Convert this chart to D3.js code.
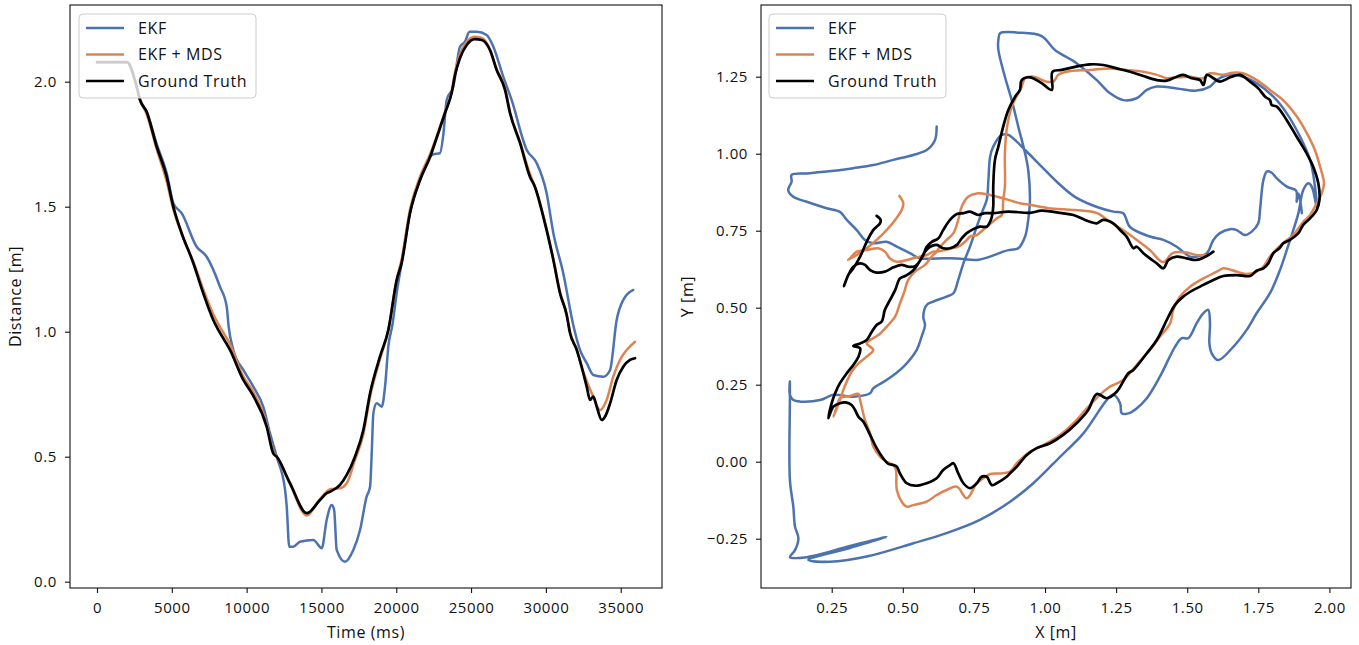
<!DOCTYPE html>
<html>
<head>
<meta charset="utf-8">
<script src="https://cdn.jsdelivr.net/npm/d3@7"></script>
<style>
  body { margin: 0; background: #fff; }
  svg text { font-family: "Open Sans", sans-serif; fill: #111; letter-spacing: 0.6px; }
  .tick line { stroke: #111; stroke-width: 1.1; }
</style>
</head>
<body>
<svg id="chart"></svg>
<script>
const FRAME_WIDTH = 1359;
const FRAME_HEIGHT = 645;

// panel boxes (pixels) for the two subplots
const LEFT_BOX = {x0: 70, x1: 662, y0: 5, y1: 588};
const RIGHT_BOX = {x0: 761, x1: 1351, y0: 5, y1: 588};

const COLORS = {ekf: "#4C72B0", mds: "#DD8452", gt: "#000000"};
const SERIES_NAMES = ["EKF", "EKF + MDS", "Ground Truth"];

// ---------------- left plot: distance over time ----------------
const timeTicks = [0, 5000, 10000, 15000, 20000, 25000, 30000, 35000];
const distTicks = [0.0, 0.5, 1.0, 1.5, 2.0];

const gtTime = [0, 2000, 2650, 2870, 3320, 3990, 4660, 5100, 5660, 6440, 7100, 7770, 8110, 8890,
  9780, 10340, 11340, 11780, 12010, 12900, 14020, 14900, 15350, 15570, 16240, 16690, 17240, 17800,
  18250, 18910, 19470, 20030, 20360, 20920, 21590, 22260, 22810, 23260, 23700, 23930, 24260, 24710,
  25260, 25710, 26260, 26710, 27270, 27600, 28270, 28940, 29270, 29830, 30500, 30940, 31390, 31610,
  32060, 32500, 32730, 32950, 33170, 33400, 33730, 33950, 34290, 34730, 35170, 35620, 35960];
const gtDist = [2.078, 2.078, 1.98, 1.927, 1.88, 1.74, 1.62, 1.50, 1.394, 1.274, 1.154, 1.047, 1.007, 0.927,
  0.807, 0.754, 0.62, 0.513, 0.50, 0.394, 0.274, 0.327, 0.354, 0.36, 0.387, 0.427, 0.50, 0.607,
  0.754, 0.90, 1.007, 1.207, 1.275, 1.475, 1.607, 1.699, 1.795, 1.875, 1.955, 2.027, 2.095, 2.147,
  2.17, 2.167, 2.127, 2.047, 1.967, 1.875, 1.755, 1.619, 1.579, 1.459, 1.287, 1.155, 1.067, 0.995,
  0.927, 0.834, 0.78, 0.727, 0.74, 0.70, 0.647, 0.66, 0.713, 0.807, 0.86, 0.887, 0.894];

const ekfTime = [0, 2000, 2650, 2870, 3320, 3990, 4660, 5100, 5660, 6660, 7330, 8220, 8670, 8800,
  9110, 9780, 10450, 11110, 11560, 12010, 12570, 12680, 12850, 13120, 13570, 14460, 15020, 15350,
  15690, 15850, 16020, 16570, 17130, 17580, 18020, 18250, 18360, 18470, 18690, 19030, 19250, 19470,
  19750, 20030, 20360, 20920, 21590, 22260, 22480, 22920, 23150, 23370, 23810, 24260, 24590, 24900,
  25380, 26040, 26490, 27150, 27710, 28720, 29390, 30050, 30500, 31160, 31830, 32280, 32730, 33170,
  33840, 34290, 34730, 35170, 35840];
const ekfDist = [2.078, 2.078, 1.98, 1.93, 1.88, 1.75, 1.634, 1.514, 1.474, 1.34, 1.30, 1.18, 1.10, 1.02,
  0.927, 0.847, 0.78, 0.70, 0.594, 0.50, 0.367, 0.30, 0.14, 0.14, 0.16, 0.167, 0.134, 0.247,
  0.307, 0.287, 0.127, 0.08, 0.127, 0.207, 0.34, 0.38, 0.514, 0.674, 0.714, 0.70, 0.78, 0.94,
  1.03, 1.155, 1.275, 1.475, 1.607, 1.70, 1.71, 1.714, 1.79, 1.927, 1.98, 2.14, 2.16, 2.20,
  2.20, 2.187, 2.14, 2.02, 1.927, 1.727, 1.674, 1.554, 1.394, 1.234, 1.027, 0.927, 0.874, 0.827,
  0.82, 0.847, 1.047, 1.127, 1.167];

const mdsTime = [0, 2000, 2650, 2870, 3320, 3990, 4660, 5100, 5660, 6440, 7100, 7770, 8110, 8890,
  9780, 10340, 11340, 11780, 12010, 12900, 14020, 14900, 15350, 15570, 16240, 16690, 17240, 17800,
  18250, 18910, 19470, 20030, 20360, 20920, 21590, 22260, 22810, 23260, 23700, 23930, 24260, 24710,
  25260, 25710, 26260, 26710, 27270, 27600, 28270, 28940, 29270, 29830, 30500, 30940, 31390, 31610,
  32060, 32500, 32830, 33170, 33620, 34060, 34500, 34950, 35400, 35960];
const mdsDist = [2.078, 2.078, 1.985, 1.93, 1.87, 1.73, 1.60, 1.49, 1.39, 1.28, 1.17, 1.07, 1.03, 0.95,
  0.82, 0.77, 0.63, 0.52, 0.50, 0.39, 0.265, 0.33, 0.36, 0.37, 0.374, 0.394, 0.487, 0.59,
  0.74, 0.89, 1.007, 1.21, 1.29, 1.49, 1.62, 1.71, 1.80, 1.88, 1.96, 2.04, 2.11, 2.16,
  2.18, 2.175, 2.13, 2.05, 1.975, 1.88, 1.76, 1.63, 1.58, 1.465, 1.29, 1.16, 1.07, 1.00,
  0.93, 0.84, 0.787, 0.74, 0.687, 0.727, 0.82, 0.887, 0.927, 0.96];

// ---------------- right plot: trajectories [x, y] in metres ----------------
const xTicks = [0.25, 0.50, 0.75, 1.00, 1.25, 1.50, 1.75, 2.00];
const yTicks = [-0.25, 0.00, 0.25, 0.50, 0.75, 1.00, 1.25];

const gtPath = [
  [0.408, 0.798], [0.422, 0.785], [0.420, 0.774], [0.396, 0.752], [0.373, 0.714], [0.350, 0.666],
  [0.326, 0.628], [0.308, 0.606], [0.297, 0.579], [0.293, 0.570], [0.307, 0.603], [0.326, 0.633],
  [0.350, 0.644], [0.367, 0.639], [0.385, 0.622], [0.408, 0.614], [0.437, 0.617], [0.467, 0.631],
  [0.496, 0.639], [0.519, 0.633], [0.543, 0.635], [0.558, 0.649], [0.578, 0.682], [0.596, 0.698],
  [0.619, 0.704], [0.642, 0.693], [0.666, 0.693], [0.690, 0.704], [0.707, 0.725], [0.725, 0.742],
  [0.748, 0.755], [0.771, 0.763], [0.795, 0.763], [0.804, 0.774], [0.813, 0.795], [0.818, 0.828],
  [0.818, 0.893], [0.824, 0.980], [0.836, 1.023], [0.853, 1.088], [0.871, 1.142], [0.895, 1.185],
  [0.912, 1.207], [0.918, 1.239], [0.947, 1.248], [0.988, 1.229], [1.024, 1.207], [1.026, 1.266],
  [1.059, 1.272], [1.105, 1.282], [1.158, 1.290], [1.205, 1.288], [1.252, 1.277], [1.299, 1.266],
  [1.346, 1.252], [1.393, 1.239], [1.428, 1.237], [1.463, 1.250], [1.486, 1.256], [1.516, 1.245],
  [1.545, 1.239], [1.557, 1.223], [1.569, 1.256], [1.592, 1.245], [1.615, 1.234], [1.651, 1.248],
  [1.686, 1.256], [1.721, 1.234], [1.750, 1.212], [1.774, 1.185], [1.791, 1.174], [1.797, 1.158],
  [1.815, 1.153], [1.850, 1.109], [1.885, 1.055], [1.920, 1.001], [1.943, 0.958], [1.961, 0.904],
  [1.965, 0.850], [1.955, 0.817], [1.932, 0.790], [1.908, 0.769], [1.891, 0.742], [1.861, 0.720],
  [1.838, 0.709], [1.824, 0.693], [1.803, 0.677], [1.785, 0.644], [1.768, 0.628], [1.744, 0.620],
  [1.721, 0.603], [1.674, 0.606], [1.627, 0.603], [1.592, 0.590], [1.557, 0.574], [1.521, 0.557],
  [1.486, 0.536], [1.457, 0.509], [1.440, 0.482], [1.428, 0.460], [1.393, 0.395], [1.358, 0.352],
  [1.311, 0.298], [1.293, 0.287], [1.252, 0.227], [1.217, 0.206], [1.182, 0.220], [1.152, 0.168],
  [1.111, 0.125], [1.064, 0.087], [1.018, 0.060], [0.971, 0.044], [0.936, 0.022], [0.901, -0.016],
  [0.877, -0.038], [0.865, -0.049], [0.830, -0.070], [0.813, -0.076], [0.795, -0.049], [0.777, -0.049],
  [0.760, -0.070], [0.736, -0.086], [0.713, -0.070], [0.695, -0.038], [0.678, -0.005], [0.666, -0.011],
  [0.642, -0.027], [0.619, -0.054], [0.584, -0.070], [0.543, -0.078], [0.514, -0.070], [0.490, -0.038],
  [0.479, -0.016], [0.467, -0.011], [0.449, -0.007], [0.431, 0.011], [0.408, 0.044], [0.385, 0.087],
  [0.361, 0.130], [0.344, 0.146], [0.332, 0.168], [0.320, 0.184], [0.303, 0.192], [0.279, 0.190],
  [0.256, 0.179], [0.238, 0.141], [0.250, 0.190], [0.262, 0.222], [0.279, 0.255], [0.303, 0.287],
  [0.326, 0.314], [0.344, 0.341], [0.350, 0.368], [0.326, 0.376], [0.350, 0.384], [0.373, 0.395],
  [0.391, 0.422], [0.408, 0.444], [0.426, 0.455], [0.437, 0.493], [0.455, 0.525], [0.473, 0.557],
  [0.490, 0.595], [0.508, 0.603], [0.525, 0.612], [0.543, 0.628], [0.558, 0.649], [0.572, 0.671],
  [0.584, 0.698], [0.602, 0.714], [0.625, 0.725], [0.642, 0.752], [0.666, 0.785], [0.690, 0.804],
  [0.713, 0.807], [0.736, 0.812], [0.765, 0.801], [0.789, 0.807], [0.818, 0.807], [0.871, 0.812],
  [0.947, 0.808], [0.988, 0.815], [1.059, 0.807], [1.100, 0.801], [1.141, 0.785], [1.158, 0.779],
  [1.182, 0.774], [1.205, 0.785], [1.240, 0.774], [1.264, 0.752], [1.287, 0.731], [1.311, 0.693],
  [1.322, 0.698], [1.346, 0.677], [1.369, 0.660], [1.393, 0.644], [1.416, 0.628], [1.434, 0.655],
  [1.463, 0.666], [1.498, 0.660], [1.533, 0.655], [1.569, 0.668], [1.592, 0.682]
];

const mdsPath = [
  [0.488, 0.863], [0.502, 0.839], [0.496, 0.817], [0.473, 0.785], [0.443, 0.752], [0.408, 0.720],
  [0.373, 0.693], [0.338, 0.671], [0.308, 0.655], [0.314, 0.660], [0.338, 0.682], [0.373, 0.687],
  [0.414, 0.693], [0.437, 0.682], [0.455, 0.660], [0.479, 0.649], [0.514, 0.655], [0.549, 0.664],
  [0.584, 0.671], [0.607, 0.682], [0.619, 0.682], [0.648, 0.687], [0.672, 0.693], [0.695, 0.698],
  [0.719, 0.714], [0.736, 0.731], [0.760, 0.736], [0.789, 0.758], [0.830, 0.790], [0.848, 0.801],
  [0.853, 0.850], [0.859, 0.893], [0.859, 1.001], [0.865, 1.077], [0.883, 1.153], [0.918, 1.218],
  [0.930, 1.245], [0.959, 1.250], [1.006, 1.234], [1.029, 1.234], [1.047, 1.256], [1.076, 1.266],
  [1.158, 1.272], [1.229, 1.277], [1.288, 1.272], [1.345, 1.266], [1.394, 1.256], [1.429, 1.245],
  [1.464, 1.248], [1.510, 1.250], [1.556, 1.245], [1.580, 1.261], [1.605, 1.259], [1.626, 1.256],
  [1.661, 1.263], [1.696, 1.261], [1.745, 1.239], [1.791, 1.207], [1.837, 1.174], [1.886, 1.120],
  [1.921, 1.066], [1.949, 1.012], [1.967, 0.958], [1.981, 0.904], [1.973, 0.871], [1.955, 0.839],
  [1.932, 0.801], [1.908, 0.779], [1.873, 0.736], [1.838, 0.711], [1.791, 0.666], [1.768, 0.633],
  [1.744, 0.617], [1.709, 0.609], [1.674, 0.617], [1.627, 0.628], [1.604, 0.617], [1.557, 0.595],
  [1.510, 0.568], [1.475, 0.536], [1.451, 0.493], [1.440, 0.449], [1.404, 0.406], [1.369, 0.363],
  [1.322, 0.314], [1.275, 0.265], [1.229, 0.244], [1.193, 0.217], [1.147, 0.173], [1.100, 0.125],
  [1.053, 0.087], [0.994, 0.054], [0.947, 0.032], [0.901, -0.005], [0.877, -0.032], [0.842, -0.038],
  [0.807, -0.040], [0.783, -0.054], [0.760, -0.070], [0.725, -0.119], [0.690, -0.081], [0.654, -0.092],
  [0.619, -0.108], [0.584, -0.130], [0.537, -0.141], [0.514, -0.146], [0.496, -0.130], [0.479, -0.092],
  [0.476, -0.027], [0.467, -0.011], [0.443, 0.000], [0.420, 0.016], [0.396, 0.049], [0.385, 0.092],
  [0.367, 0.135], [0.350, 0.200], [0.344, 0.220], [0.314, 0.213], [0.279, 0.206], [0.268, 0.179],
  [0.256, 0.146], [0.268, 0.173], [0.279, 0.200], [0.291, 0.233], [0.303, 0.260], [0.320, 0.292],
  [0.344, 0.319], [0.373, 0.341], [0.396, 0.363], [0.373, 0.384], [0.385, 0.395], [0.414, 0.411],
  [0.443, 0.438], [0.473, 0.471], [0.490, 0.514], [0.504, 0.548], [0.519, 0.590], [0.543, 0.617],
  [0.578, 0.639], [0.602, 0.666], [0.619, 0.682], [0.631, 0.698], [0.654, 0.720], [0.678, 0.742],
  [0.695, 0.785], [0.707, 0.828], [0.730, 0.860], [0.760, 0.871], [0.807, 0.866], [0.853, 0.855],
  [0.912, 0.839], [0.947, 0.834], [1.012, 0.823], [1.105, 0.817], [1.183, 0.807], [1.229, 0.778],
  [1.274, 0.752], [1.323, 0.720], [1.369, 0.687], [1.415, 0.648], [1.450, 0.678], [1.498, 0.679],
  [1.533, 0.671], [1.569, 0.671]
];

const ekfPath = [
  [0.619, 1.088], [0.613, 1.044], [0.584, 1.012], [0.537, 0.996], [0.467, 0.980], [0.396, 0.963],
  [0.326, 0.953], [0.232, 0.942], [0.162, 0.936], [0.109, 0.931], [0.109, 0.909], [0.097, 0.882],
  [0.115, 0.860], [0.162, 0.844], [0.232, 0.823], [0.279, 0.811], [0.303, 0.785], [0.338, 0.752],
  [0.367, 0.720], [0.396, 0.709], [0.443, 0.714], [0.479, 0.698], [0.525, 0.677], [0.561, 0.660],
  [0.619, 0.660], [0.690, 0.660], [0.760, 0.655], [0.807, 0.666], [0.853, 0.682], [0.871, 0.687],
  [0.906, 0.693], [0.930, 0.731], [0.941, 0.785], [0.947, 0.850], [0.941, 0.947], [0.930, 1.001],
  [0.906, 1.088], [0.883, 1.174], [0.859, 1.250], [0.836, 1.337], [0.836, 1.369], [0.842, 1.391],
  [0.906, 1.393], [0.988, 1.382], [1.035, 1.337], [1.111, 1.294], [1.182, 1.239], [1.229, 1.196],
  [1.275, 1.174], [1.322, 1.180], [1.358, 1.207], [1.393, 1.218], [1.463, 1.212], [1.533, 1.205],
  [1.580, 1.218], [1.604, 1.239], [1.651, 1.256], [1.697, 1.250], [1.744, 1.229], [1.803, 1.185],
  [1.850, 1.131], [1.897, 1.055], [1.932, 0.980], [1.946, 0.915], [1.955, 0.828], [1.938, 0.893],
  [1.926, 0.904], [1.908, 0.882], [1.891, 0.807], [1.873, 0.752], [1.850, 0.687], [1.826, 0.622],
  [1.791, 0.547], [1.744, 0.482], [1.709, 0.428], [1.662, 0.373], [1.609, 0.330], [1.586, 0.352],
  [1.578, 0.384], [1.580, 0.449], [1.574, 0.493], [1.557, 0.482], [1.533, 0.449], [1.504, 0.401],
  [1.481, 0.401], [1.457, 0.373], [1.404, 0.276], [1.358, 0.206], [1.322, 0.173], [1.293, 0.157],
  [1.270, 0.157], [1.264, 0.190], [1.240, 0.217], [1.217, 0.200], [1.135, 0.092], [1.053, 0.016],
  [0.959, -0.070], [0.877, -0.130], [0.771, -0.189], [0.654, -0.232], [0.537, -0.265], [0.373, -0.308],
  [0.244, -0.325], [0.168, -0.319], [0.314, -0.280], [0.443, -0.244], [0.314, -0.274], [0.162, -0.310],
  [0.103, -0.310], [0.121, -0.287], [0.133, -0.249], [0.121, -0.211], [0.115, -0.146], [0.103, -0.059],
  [0.103, 0.200], [0.103, 0.260], [0.103, 0.217], [0.115, 0.200], [0.139, 0.195], [0.209, 0.200],
  [0.256, 0.217], [0.326, 0.211], [0.385, 0.222], [0.396, 0.238], [0.443, 0.265], [0.502, 0.308],
  [0.549, 0.363], [0.566, 0.406], [0.578, 0.444], [0.572, 0.471], [0.584, 0.509], [0.607, 0.520],
  [0.654, 0.536], [0.678, 0.547], [0.695, 0.590], [0.713, 0.644], [0.736, 0.698], [0.760, 0.763],
  [0.777, 0.807], [0.795, 0.850], [0.801, 0.915], [0.807, 0.990], [0.818, 1.023], [0.848, 1.061],
  [0.871, 1.061], [0.930, 1.012], [0.988, 0.958], [1.047, 0.904], [1.105, 0.860], [1.183, 0.827],
  [1.240, 0.812], [1.275, 0.807], [1.299, 0.762], [1.369, 0.731], [1.416, 0.720], [1.463, 0.698],
  [1.510, 0.666], [1.533, 0.666], [1.569, 0.677], [1.592, 0.720], [1.615, 0.742], [1.651, 0.755],
  [1.674, 0.752], [1.703, 0.736], [1.727, 0.747], [1.750, 0.774], [1.756, 0.817], [1.768, 0.915],
  [1.780, 0.942], [1.797, 0.938], [1.815, 0.920], [1.850, 0.893], [1.883, 0.880], [1.885, 0.844],
  [1.891, 0.871], [1.897, 0.850], [1.903, 0.807]
];

//###############################################################
// frame and scales
//###############################################################
const SVG = d3.select("#chart")
  .attr("width", FRAME_WIDTH)
  .attr("height", FRAME_HEIGHT);

const X_TIME = d3.scaleLinear().domain([-1804, 37760]).range([LEFT_BOX.x0, LEFT_BOX.x1]);
const Y_DIST = d3.scaleLinear().domain([-0.0252, 2.3068]).range([LEFT_BOX.y1, LEFT_BOX.y0]);
const X_POS = d3.scaleLinear().domain([0.0014, 2.0759]).range([RIGHT_BOX.x0, RIGHT_BOX.x1]);
const Y_POS = d3.scaleLinear().domain([-0.4101, 1.4828]).range([RIGHT_BOX.y1, RIGHT_BOX.y0]);

// helper: draws ticks, spines and axis titles for one panel
function drawAxes(box, xs, ys, xt, yt, xfmt, yfmt, xlabel, ylabel, ylabelX) {
  SVG.append("g")
    .attr("transform", "translate(0," + box.y1 + ")")
    .call(d3.axisBottom(xs).tickValues(xt).tickFormat(xfmt).tickSize(5).tickPadding(9))
    .call(g => g.select(".domain").remove())
    .selectAll("text").attr("font-size", "15px");

  SVG.append("g")
    .attr("transform", "translate(" + box.x0 + ",0)")
    .call(d3.axisLeft(ys).tickValues(yt).tickFormat(yfmt).tickSize(5).tickPadding(8))
    .call(g => g.select(".domain").remove())
    .selectAll("text").attr("font-size", "15px");

  SVG.append("rect") // the four spines
    .attr("x", box.x0).attr("y", box.y0)
    .attr("width", box.x1 - box.x0).attr("height", box.y1 - box.y0)
    .attr("fill", "none").attr("stroke", "#111").attr("stroke-width", 1.1);

  SVG.append("text")
    .attr("x", (box.x0 + box.x1) / 2).attr("y", 638)
    .attr("text-anchor", "middle").attr("font-size", "16px")
    .text(xlabel);

  SVG.append("text")
    .attr("transform", "translate(" + ylabelX + "," + ((box.y0 + box.y1) / 2) + ") rotate(-90)")
    .attr("text-anchor", "middle").attr("font-size", "16px")
    .text(ylabel);
}

drawAxes(LEFT_BOX, X_TIME, Y_DIST, timeTicks, distTicks, d3.format("d"), d3.format(".1f"),
  "Time (ms)", "Distance [m]", 21);
drawAxes(RIGHT_BOX, X_POS, Y_POS, xTicks, yTicks, d3.format(".2f"), d3.format(".2f"),
  "X [m]", "Y [m]", 693);

//###############################################################
// lines (smoothed a bit, like the densely sampled originals)
//###############################################################
const timeLine = d3.line()
  .x(d => X_TIME(d[0])).y(d => Y_DIST(d[1]))
  .curve(d3.curveMonotoneX);
const posLine = d3.line()
  .x(d => X_POS(d[0])).y(d => Y_POS(d[1]))
  .curve(d3.curveCatmullRom.alpha(0.5));

const leftSeries = [
  {pts: d3.zip(ekfTime, ekfDist), color: COLORS.ekf, w: 2.5},
  {pts: d3.zip(mdsTime, mdsDist), color: COLORS.mds, w: 2.5},
  {pts: d3.zip(gtTime, gtDist), color: COLORS.gt, w: 2.7}
];
const rightSeries = [
  {pts: ekfPath, color: COLORS.ekf, w: 2.5},
  {pts: mdsPath, color: COLORS.mds, w: 2.5},
  {pts: gtPath, color: COLORS.gt, w: 2.7}
];

leftSeries.forEach(s => {
  SVG.append("path")
    .attr("d", timeLine(s.pts))
    .attr("fill", "none").attr("stroke", s.color).attr("stroke-width", s.w)
    .attr("stroke-linejoin", "round").attr("stroke-linecap", "round");
});
rightSeries.forEach(s => {
  SVG.append("path")
    .attr("d", posLine(s.pts))
    .attr("fill", "none").attr("stroke", s.color).attr("stroke-width", s.w)
    .attr("stroke-linejoin", "round").attr("stroke-linecap", "round");
});

//###############################################################
// legends
//###############################################################
function drawLegend(x, y) {
  const g = SVG.append("g").attr("transform", "translate(" + x + "," + y + ")");
  g.append("rect")
    .attr("width", 177).attr("height", 84).attr("rx", 4)
    .attr("fill", "#fff").attr("fill-opacity", 0.8)
    .attr("stroke", "#cccccc").attr("stroke-width", 1);
  const cols = [COLORS.ekf, COLORS.mds, COLORS.gt];
  SERIES_NAMES.forEach((name, i) => {
    const cy = 14 + i * 26.5;
    g.append("line")
      .attr("x1", 7).attr("x2", 45).attr("y1", cy).attr("y2", cy)
      .attr("stroke", cols[i]).attr("stroke-width", i === 2 ? 2.7 : 2.5);
    g.append("text")
      .attr("x", 59).attr("y", cy).attr("dy", "0.35em")
      .attr("font-size", "16px")
      .text(name);
  });
}
drawLegend(79, 14);
drawLegend(769, 14);
</script>
</body>
</html>
